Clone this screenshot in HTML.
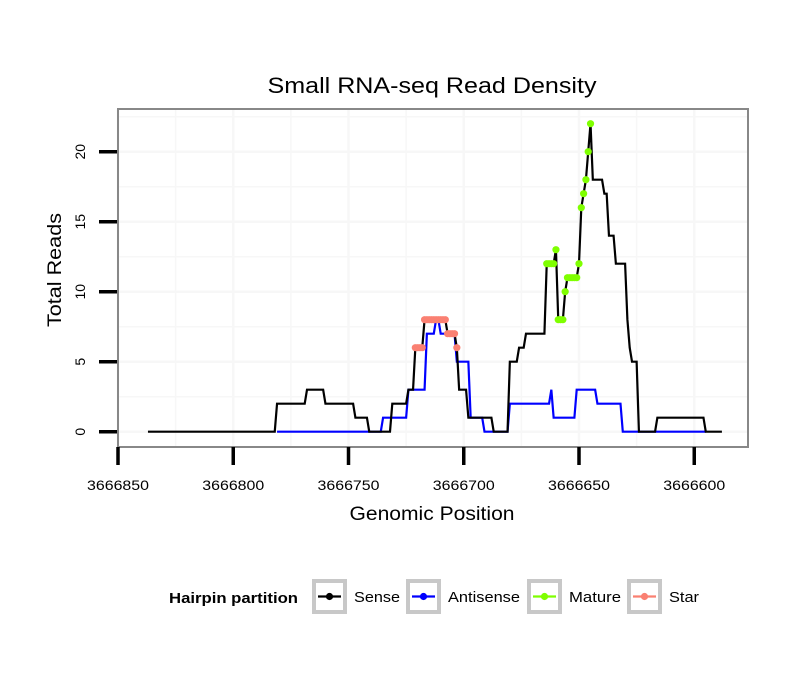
<!DOCTYPE html>
<html><head><meta charset="utf-8"><style>
body{margin:0;background:#fff;}
svg{display:block;font-family:"Liberation Sans",sans-serif;}
</style></head><body>
<svg id="chart" width="810" height="690">
<rect width="810" height="690" fill="#fff"/>
<text x="432" y="93" font-size="22" text-anchor="middle" textLength="329" lengthAdjust="spacingAndGlyphs">Small RNA-seq Read Density</text>
<g id="grid"></g>
<g id="series"></g>
<rect x="118" y="109" width="630" height="338" fill="none" stroke="#888" stroke-width="2"/>
<g id="axes"></g>
<text x="432" y="520" font-size="19" text-anchor="middle" textLength="165" lengthAdjust="spacingAndGlyphs">Genomic Position</text>
<text transform="translate(61,270) rotate(-90)" font-size="19" text-anchor="middle" textLength="114" lengthAdjust="spacingAndGlyphs">Total Reads</text>
<g id="legend">
<text x="169" y="603" font-size="15" font-weight="bold" textLength="129" lengthAdjust="spacingAndGlyphs">Hairpin partition</text>
</g>
</svg>
<script>
// Sense runs: start position (descending), end position, value
const senseStart=[3666837,3666781,3666768,3666760,3666747,3666741,3666731,3666724,3666721,3666717,3666707,3666703,3666702,3666698,3666687,3666680,3666676,3666673,3666664,3666660,3666659,3666656,3666655,3666650,3666649,3666648,3666647,3666646,3666645,3666644,3666639,3666637,3666634,3666629,3666628,3666627,3666624,3666616,3666595];
const senseEnd  =[3666782,3666769,3666761,3666748,3666742,3666732,3666725,3666722,3666718,3666708,3666704,3666703,3666699,3666688,3666681,3666677,3666674,3666665,3666661,3666660,3666657,3666656,3666651,3666650,3666649,3666648,3666647,3666646,3666645,3666640,3666638,3666635,3666630,3666629,3666628,3666625,3666617,3666596,3666588];
const senseVal  =[0,2,3,2,1,0,2,3,6,8,7,6,3,1,0,5,6,7,12,13,8,10,11,12,16,17,18,20,22,18,17,14,12,8,6,5,0,1,0];
const antiStart=[3666781,3666735,3666724,3666716,3666712,3666710,3666703,3666697,3666691,3666680,3666662,3666661,3666651,3666642,3666631];
const antiEnd  =[3666736,3666725,3666717,3666713,3666711,3666704,3666698,3666692,3666681,3666663,3666662,3666652,3666643,3666632,3666595];
const antiVal  =[0,1,3,7,8,7,5,1,0,2,3,1,3,2,0];
const matureRange=[3666664,3666645];
const starRange=[3666721,3666703];
const xTicks=[3666850,3666800,3666750,3666700,3666650,3666600];
const yTicks=[0,5,10,15,20];

const NS="http://www.w3.org/2000/svg";
const X=p=>118+(3666850-p)*2.305;
const Y=v=>431.7-v*14;
function mk(tag,attrs,parent){const e=document.createElementNS(NS,tag);for(const k in attrs)e.setAttribute(k,attrs[k]);parent.appendChild(e);return e;}
function expand(s,e,v){const pts=[];for(let i=0;i<s.length;i++){for(let p=s[i];p>=e[i];p--)pts.push([p,v[i]]);}return pts;}
const sense=expand(senseStart,senseEnd,senseVal);
const anti=expand(antiStart,antiEnd,antiVal);
const grid=document.getElementById('grid');
const series=document.getElementById('series');
const axes=document.getElementById('axes');
// grid
for(let v=0;v<=22.5;v+=2.5){const l=mk('line',{x1:118,x2:748,y1:Y(v),y2:Y(v),stroke:'#f7f7f7','stroke-width':v%5===0?2.5:1.5},grid);

}
for(let p=3666850;p>=3666575;p-=25){if(X(p)>748)continue;const l=mk('line',{x1:X(p),x2:X(p),y1:109,y2:447,stroke:'#f7f7f7','stroke-width':p%50===0?2.5:1.5},grid);

}
function line(pts,color,name){const l=mk('polyline',{points:pts.map(q=>X(q[0])+','+Y(q[1])).join(' '),fill:'none',stroke:color,'stroke-width':2.2},series);

}
line(anti,'#0000ff','antisense-line');
line(sense,'#000000','sense-line');
function dots(range,color,name){sense.filter(q=>q[0]<=range[0]&&q[0]>=range[1]).forEach(q=>{const c=mk('circle',{cx:X(q[0]),cy:Y(q[1]),r:3.6,fill:color},series);

});}
dots(matureRange,'#7fff00','mature-point');
dots(starRange,'#fa8072','star-point');
// axes
yTicks.forEach(v=>{const t=mk('line',{x1:99,x2:117,y1:Y(v),y2:Y(v),stroke:'#000','stroke-width':3.5},axes);


const tx=mk('text',{transform:`translate(${85},${Y(v)}) rotate(-90)`,'font-size':14,'text-anchor':'middle'},axes);tx.textContent=v;

});
xTicks.forEach(p=>{const t=mk('line',{x1:X(p),x2:X(p),y1:447,y2:465,stroke:'#000','stroke-width':3.5},axes);


const tx=mk('text',{x:X(p),y:490,'font-size':14,'text-anchor':'middle',textLength:62,lengthAdjust:'spacingAndGlyphs'},axes);tx.textContent=p;

});
// legend
const legItems=[['Sense','#000',312,46],['Antisense','#0000ff',406,72],['Mature','#7fff00',527,52],['Star','#fa8072',627,30]];
const leg=document.getElementById('legend');
legItems.forEach(it=>{const g=mk('g',{},leg);


mk('rect',{x:it[2]+2,y:581,width:31,height:31,fill:'#fff',stroke:'#c8c8c8','stroke-width':4},g);
mk('line',{x1:it[2]+6,x2:it[2]+29,y1:596.5,y2:596.5,stroke:it[1],'stroke-width':2.2},g);
mk('circle',{cx:it[2]+17.5,cy:596.5,r:3.6,fill:it[1]},g);
const t=mk('text',{x:it[2]+42,y:602,'font-size':15,textLength:it[3],lengthAdjust:'spacingAndGlyphs'},g);t.textContent=it[0];});
</script>
</body></html>
